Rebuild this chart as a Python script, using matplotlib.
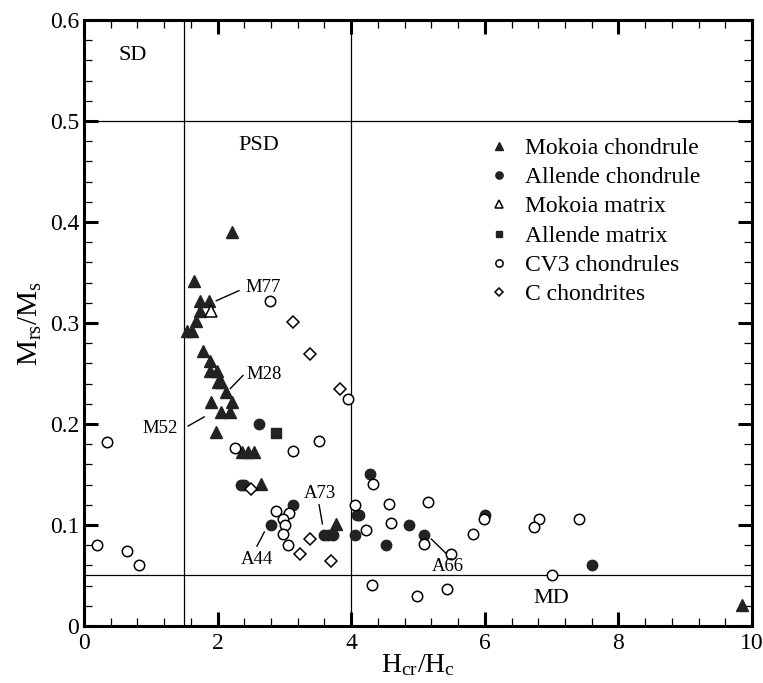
import matplotlib
matplotlib.use("Agg")
import matplotlib.pyplot as plt
from matplotlib.ticker import MultipleLocator, FuncFormatter

plt.rcParams['font.family'] = ['Liberation Serif', 'DejaVu Serif']
plt.rcParams['mathtext.fontset'] = 'custom'
plt.rcParams['mathtext.rm'] = 'Liberation Serif'
plt.rcParams['mathtext.it'] = 'Liberation Serif:italic'

# ---- data (Hcr/Hc, Mrs/Ms) ----
mokoia_chondrule_x = [2.22, 1.65, 1.74, 1.87, 1.74, 1.68, 1.55, 1.62, 1.78, 1.88, 1.88, 1.99,
                      2.00, 2.05, 2.12, 1.90, 2.22, 2.05, 2.19, 1.97, 2.36, 2.46, 2.54, 2.645,
                      3.78, 9.85]
mokoia_chondrule_y = [0.39, 0.342, 0.322, 0.322, 0.312, 0.302, 0.292, 0.292, 0.272, 0.262, 0.252, 0.252,
                      0.242, 0.242, 0.232, 0.222, 0.222, 0.212, 0.212, 0.192, 0.172, 0.172, 0.172, 0.141,
                      0.101, 0.021]

allende_chondrule_x = [2.62, 2.35, 2.39, 3.13, 2.80, 3.59, 3.66, 3.73, 4.28, 4.08, 4.12, 4.06,
                       4.52, 4.86, 5.09, 6.01, 7.60]
allende_chondrule_y = [0.200, 0.140, 0.140, 0.120, 0.100, 0.090, 0.090, 0.090, 0.150, 0.110, 0.110, 0.090,
                       0.080, 0.100, 0.090, 0.110, 0.060]

mokoia_matrix_x = [1.90]
mokoia_matrix_y = [0.312]

allende_matrix_x = [2.87]
allende_matrix_y = [0.191]

cv3_x = [2.79, 3.96, 3.52, 2.26, 3.13, 0.34, 0.19, 0.64, 0.83, 2.88, 3.07, 2.98, 3.01, 2.98, 3.05,
         4.32, 4.06, 4.22, 4.57, 4.60, 5.15, 5.09, 5.49, 5.83, 5.99, 6.81, 6.74, 7.41, 7.01,
         4.31, 4.99, 5.43]
cv3_y = [0.322, 0.225, 0.183, 0.176, 0.173, 0.182, 0.080, 0.074, 0.060, 0.114, 0.112, 0.106, 0.100, 0.091, 0.080,
         0.141, 0.120, 0.095, 0.121, 0.102, 0.123, 0.081, 0.071, 0.091, 0.106, 0.106, 0.098, 0.106, 0.050,
         0.041, 0.030, 0.037]

c_chondrite_x = [3.13, 3.38, 3.83, 2.50, 3.39, 3.23, 3.70]
c_chondrite_y = [0.301, 0.269, 0.235, 0.136, 0.086, 0.071, 0.064]

series_labels = ["Mokoia chondrule", "Allende chondrule", "Mokoia matrix",
                 "Allende matrix", "CV3 chondrules", "C chondrites"]

# sample annotations: name, text position, leader start, leader end
annot_names = ["M77", "M28", "M52", "A73", "A44", "A66"]
annot_text_xy = [(2.42, 0.335), (2.43, 0.249), (1.41, 0.196), (3.53, 0.131), (2.585, 0.066), (5.45, 0.059)]
annot_ha = ["left", "left", "right", "center", "center", "center"]
annot_line_from = [(1.98, 0.322), (2.19, 0.235), (1.56, 0.198), (3.52, 0.120), (2.70, 0.093), (5.20, 0.086)]
annot_line_to = [(2.32, 0.332), (2.38, 0.248), (1.80, 0.207), (3.57, 0.101), (2.59, 0.079), (5.45, 0.070)]

domain_names = ["SD", "PSD", "MD"]
domain_xy = [(0.73, 0.565), (2.62, 0.476), (6.99, 0.027)]

# ---- figure ----
fig = plt.figure(figsize=(7.63, 6.83), dpi=100)
ax = fig.add_axes([0.110, 0.0835, 0.8756, 0.8872])

dark = "#222222"
ax.axvline(1.5, color="black", lw=0.9, zorder=1)
ax.axvline(4.0, color="black", lw=0.9, zorder=1)
ax.axhline(0.5, color="black", lw=0.9, zorder=1)
ax.axhline(0.05, color="black", lw=0.9, zorder=1)

h1, = ax.plot(mokoia_chondrule_x, mokoia_chondrule_y, ls="none", marker="^", ms=8.5,
              mfc=dark, mec=dark, label=series_labels[0], zorder=3)
h2, = ax.plot(allende_chondrule_x, allende_chondrule_y, ls="none", marker="o", ms=7.5,
              mfc=dark, mec=dark, label=series_labels[1], zorder=3)
h3, = ax.plot(mokoia_matrix_x, mokoia_matrix_y, ls="none", marker="^", ms=8,
              mfc="white", mec="black", mew=1.1, label=series_labels[2], zorder=3)
h4, = ax.plot(allende_matrix_x, allende_matrix_y, ls="none", marker="s", ms=6.5,
              mfc=dark, mec=dark, label=series_labels[3], zorder=3)
h5, = ax.plot(cv3_x, cv3_y, ls="none", marker="o", ms=7.5,
              mfc="white", mec="black", mew=1.1, label=series_labels[4], zorder=3)
h6, = ax.plot(c_chondrite_x, c_chondrite_y, ls="none", marker="D", ms=6,
              mfc="white", mec="black", mew=1.1, label=series_labels[5], zorder=3)

for name, txy, ha, p0, p1 in zip(annot_names, annot_text_xy, annot_ha, annot_line_from, annot_line_to):
    ax.plot([p0[0], p1[0]], [p0[1], p1[1]], color="black", lw=1.0, zorder=2)
    ax.text(txy[0], txy[1], name, ha=ha, va="center", fontsize=13.5)

for name, xy in zip(domain_names, domain_xy):
    ax.text(xy[0], xy[1], name, ha="center", va="center", fontsize=16)

ax.set_xlim(0, 10)
ax.set_ylim(0, 0.6)
ax.xaxis.set_major_locator(MultipleLocator(2))
ax.xaxis.set_minor_locator(MultipleLocator(0.4))
ax.yaxis.set_major_locator(MultipleLocator(0.1))
ax.yaxis.set_minor_locator(MultipleLocator(0.02))
ax.xaxis.set_major_formatter(FuncFormatter(lambda v, p: f"{v:g}"))
ax.yaxis.set_major_formatter(FuncFormatter(lambda v, p: f"{v:g}"))

ax.tick_params(which="both", direction="in", top=True, right=True, labelsize=17)
ax.tick_params(which="major", length=10, width=2.2)
ax.tick_params(which="minor", length=6, width=0.9)
ax.tick_params(axis="x", pad=5)
for s in ax.spines.values():
    s.set_linewidth(2.2)

ax.set_xlabel(r"H$_{\mathrm{cr}}$/H$_{\mathrm{c}}$", fontsize=20, labelpad=-1)
ax.set_ylabel(r"M$_{\mathrm{rs}}$/M$_{\mathrm{s}}$", fontsize=21, labelpad=4)

leg = ax.legend(handles=[h1, h2, h3, h4, h5, h6], loc="upper left",
                bbox_to_anchor=(0.59, 0.822), frameon=False, fontsize=17,
                markerscale=0.7, handlelength=1.0, handletextpad=0.6,
                labelspacing=0.33, borderaxespad=0)

fig.savefig("out.png", dpi=100)
